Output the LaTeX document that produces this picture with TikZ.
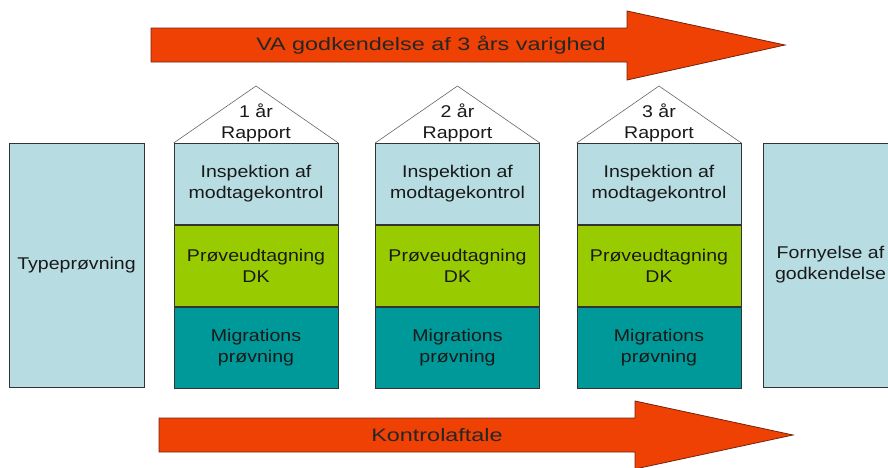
\documentclass[tikz,border=0pt]{standalone}
\usepackage{fontspec}
\setmainfont[FakeStretch=1.15]{Liberation Sans}
\newfontfamily\pilfont[FakeStretch=1.3]{Liberation Sans}
\usetikzlibrary{positioning}

\definecolor{lyseblaa}{RGB}{183,221,227}
\definecolor{limegroen}{RGB}{153,204,0}
\definecolor{petrol}{RGB}{0,153,153}
\definecolor{pilrod}{RGB}{240,65,5}
\definecolor{pilkant}{RGB}{115,35,15}

\begin{document}
\begin{tikzpicture}[x=1pt,y=-1pt,
  txt/.style={font=\fontsize{17}{21}\selectfont, align=center, text=black!90},
  lag/.style={txt, draw=black!80, line width=0.7pt, minimum width=164pt, minimum height=81.33pt, inner sep=0pt},
  insp/.style={lag, fill=lyseblaa},
  prove/.style={lag, fill=limegroen},
  migr/.style={lag, fill=petrol},
  kasse/.style={txt, draw=black!80, line width=0.7pt, fill=lyseblaa, minimum width=135pt, minimum height=244pt, inner sep=0pt},
  tag/.style={draw=black!60, line width=0.6pt},
  pil/.style={draw=pilkant, line width=0.8pt, fill=pilrod},
  piltxt/.style={font=\pilfont\fontsize{18}{22}\selectfont, text=black!85}]

\clip (0,0) rectangle (888,467);
\useasboundingbox (0,0) rectangle (888,467);

% top arrow
\draw[pil] (151,28) -- (627,28) -- (627,11) -- (785,45) -- (627,80) -- (627,62) -- (151,62) -- cycle;
\node[piltxt] (godk) at (431,45) {VA godkendelse af 3 års varighed};

% side boxes
\node[kasse] (type) at (76.5,265) {Typeprøvning};
\node[kasse] (forny) at (830.5,265) {Fornyelse af\\godkendelse};

% house 1
\node[insp] (insp1) at (256,184) {Inspektion af\\modtagekontrol};
\node[prove, below=0pt of insp1] (prove1) {Prøveudtagning\\DK};
\node[migr, below=0pt of prove1] (migr1) {Migrations\\prøvning};
\coordinate (top1) at (256,86);
\draw[tag] (insp1.north west) -- (top1) -- (insp1.north east);
\node[txt] (aar1) at (256,123) {1 år\\Rapport};

% house 2
\node[insp] (insp2) at (457.5,184) {Inspektion af\\modtagekontrol};
\node[prove, below=0pt of insp2] (prove2) {Prøveudtagning\\DK};
\node[migr, below=0pt of prove2] (migr2) {Migrations\\prøvning};
\coordinate (top2) at (457.5,86);
\draw[tag] (insp2.north west) -- (top2) -- (insp2.north east);
\node[txt] (aar2) at (457.5,123) {2 år\\Rapport};

% house 3
\node[insp] (insp3) at (659,184) {Inspektion af\\modtagekontrol};
\node[prove, below=0pt of insp3] (prove3) {Prøveudtagning\\DK};
\node[migr, below=0pt of prove3] (migr3) {Migrations\\prøvning};
\coordinate (top3) at (659,86);
\draw[tag] (insp3.north west) -- (top3) -- (insp3.north east);
\node[txt] (aar3) at (659,123) {3 år\\Rapport};

% bottom arrow
\draw[pil] (159,418) -- (635,418) -- (635,401) -- (793,435) -- (635,469) -- (635,452) -- (159,452) -- cycle;
\node[piltxt] (kontrol) at (437,435) {Kontrolaftale};

\end{tikzpicture}
\end{document}
